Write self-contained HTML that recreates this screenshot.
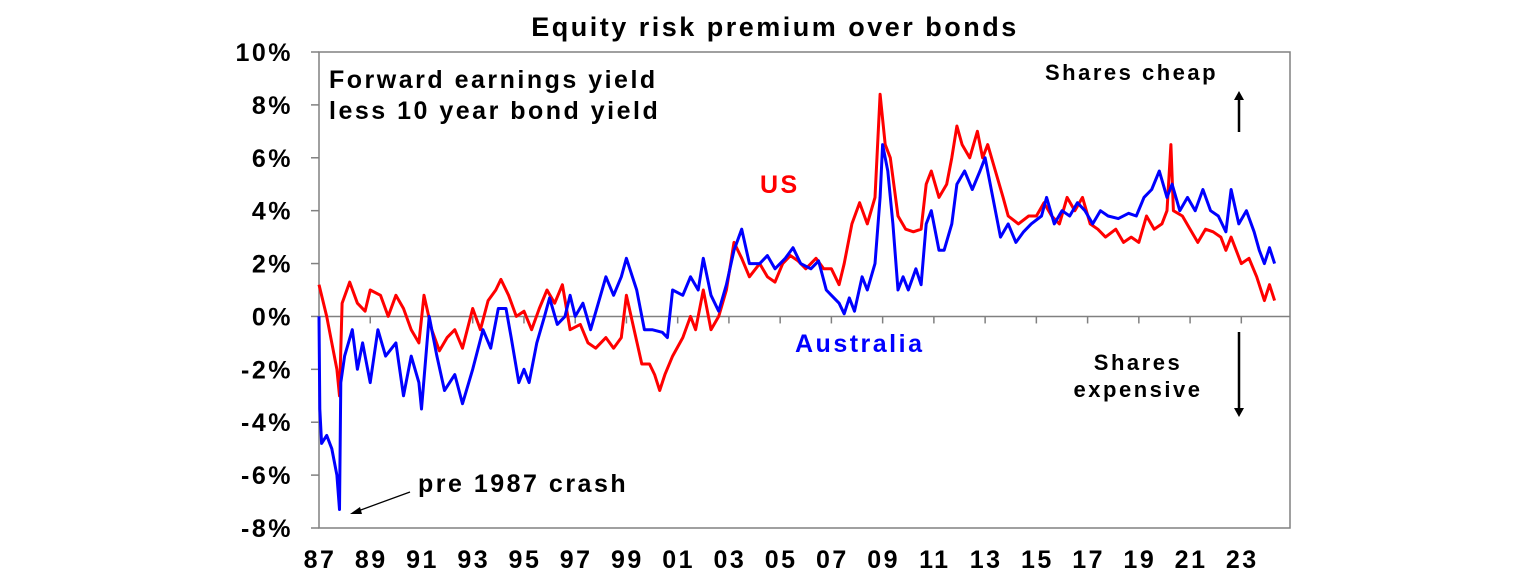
<!DOCTYPE html>
<html><head><meta charset="utf-8">
<style>
html,body{margin:0;padding:0;background:#fff;}
body{width:1536px;height:583px;overflow:hidden;font-family:"Liberation Sans",Arial,sans-serif;}
svg text{font-family:"Liberation Sans",Arial,sans-serif;font-weight:bold;letter-spacing:2.5px;}
</style></head>
<body>
<svg id="chart" width="1536" height="583" viewBox="0 0 1536 583" xmlns="http://www.w3.org/2000/svg">
<text x="775" y="36" font-size="27" text-anchor="middle">Equity risk premium over bonds</text>
<g id="axes"></g>
<g id="series"></g>
<text x="329" y="88" font-size="25">Forward earnings yield</text>
<text x="329" y="119" font-size="25">less 10 year bond yield</text>
<text x="760" y="193" font-size="25" fill="#ff0000">US</text>
<text x="795" y="352" font-size="25" fill="#0000ff">Australia</text>
<text x="1045" y="80" font-size="22">Shares cheap</text>
<text x="1138" y="370" font-size="22" text-anchor="middle">Shares</text>
<text x="1138" y="397" font-size="22" text-anchor="middle">expensive</text>
<g><line x1="1239" y1="132" x2="1239" y2="98" stroke="#000" stroke-width="2.5"/><polygon points="1234,100 1244,100 1239,91" fill="#000"/></g>
<g><line x1="1239" y1="332" x2="1239" y2="410" stroke="#000" stroke-width="2.5"/><polygon points="1234,408 1244,408 1239,417" fill="#000"/></g>
<text x="418" y="492" font-size="25">pre 1987 crash</text>
<g><line x1="410" y1="492" x2="358" y2="511" stroke="#000" stroke-width="1.3"/><polygon points="350,514 360,507 362,514" fill="#000"/></g>
</svg>
<script>
const yTicks=[10,8,6,4,2,0,-2,-4,-6,-8];
const xTickLabels=["87","89","91","93","95","97","99","01","03","05","07","09","11","13","15","17","19","21","23"];
const xTickYears=[1987,1989,1991,1993,1995,1997,1999,2001,2003,2005,2007,2009,2011,2013,2015,2017,2019,2021,2023];
const auYears=[1987.0,1987.03,1987.1,1987.3,1987.5,1987.7,1987.8,1987.85,1988.0,1988.3,1988.5,1988.7,1989.0,1989.3,1989.6,1990.0,1990.3,1990.6,1990.9,1991.0,1991.3,1991.6,1991.9,1992.3,1992.6,1993.0,1993.4,1993.7,1994.0,1994.3,1994.5,1994.8,1995.0,1995.2,1995.5,1995.8,1996.0,1996.3,1996.6,1996.8,1997.0,1997.3,1997.6,1997.9,1998.2,1998.5,1998.8,1999.0,1999.4,1999.7,2000.0,2000.4,2000.6,2000.8,2001.2,2001.5,2001.8,2002.0,2002.3,2002.6,2002.9,2003.2,2003.5,2003.8,2004.2,2004.5,2004.8,2005.2,2005.5,2005.8,2006.2,2006.5,2006.8,2007.0,2007.3,2007.5,2007.7,2007.9,2008.2,2008.4,2008.7,2008.9,2009.0,2009.2,2009.4,2009.6,2009.8,2010.0,2010.3,2010.5,2010.7,2010.9,2011.2,2011.4,2011.7,2011.9,2012.2,2012.5,2012.8,2013.0,2013.3,2013.6,2013.9,2014.2,2014.5,2014.8,2015.2,2015.4,2015.7,2016.0,2016.3,2016.6,2016.9,2017.2,2017.5,2017.8,2018.2,2018.6,2018.9,2019.2,2019.5,2019.8,2020.1,2020.3,2020.6,2020.9,2021.2,2021.5,2021.8,2022.1,2022.4,2022.6,2022.9,2023.2,2023.5,2023.7,2023.9,2024.1,2024.3];
const auValues=[0,-3.5,-4.8,-4.5,-5.0,-6.0,-7.3,-2.5,-1.5,-0.5,-2.0,-1.0,-2.5,-0.5,-1.5,-1.0,-3.0,-1.5,-2.5,-3.5,0,-1.5,-2.8,-2.2,-3.3,-2.0,-0.5,-1.2,0.3,0.3,-0.8,-2.5,-2.0,-2.5,-1.0,0.0,0.7,-0.3,0.0,0.8,0.0,0.5,-0.5,0.5,1.5,0.8,1.5,2.2,1.0,-0.5,-0.5,-0.6,-0.8,1.0,0.8,1.5,1.0,2.2,0.8,0.2,1.2,2.5,3.3,2.0,2.0,2.3,1.8,2.2,2.6,2.0,1.8,2.1,1.0,0.8,0.5,0.1,0.7,0.2,1.5,1.0,2.0,4.5,6.5,5.5,3.5,1.0,1.5,1.0,1.8,1.2,3.5,4.0,2.5,2.5,3.5,5.0,5.5,4.8,5.5,6.0,4.5,3.0,3.5,2.8,3.2,3.5,3.8,4.5,3.5,4.0,3.8,4.3,4.0,3.5,4.0,3.8,3.7,3.9,3.8,4.5,4.8,5.5,4.5,5.0,4.0,4.5,4.0,4.8,4.0,3.8,3.2,4.8,3.5,4.0,3.2,2.5,2.0,2.6,2.0];
const usYears=[1987.0,1987.3,1987.5,1987.7,1987.8,1987.9,1988.2,1988.5,1988.8,1989.0,1989.4,1989.7,1990.0,1990.3,1990.6,1990.9,1991.1,1991.4,1991.7,1992.0,1992.3,1992.6,1993.0,1993.3,1993.6,1993.9,1994.1,1994.4,1994.7,1995.0,1995.3,1995.6,1995.9,1996.2,1996.5,1996.8,1997.2,1997.5,1997.8,1998.2,1998.5,1998.8,1999.0,1999.3,1999.6,1999.9,2000.1,2000.3,2000.5,2000.8,2001.2,2001.5,2001.7,2002.0,2002.3,2002.6,2002.9,2003.2,2003.5,2003.8,2004.2,2004.5,2004.8,2005.1,2005.4,2005.7,2006.0,2006.4,2006.7,2007.0,2007.3,2007.5,2007.8,2008.1,2008.4,2008.7,2008.9,2009.1,2009.3,2009.6,2009.9,2010.2,2010.5,2010.7,2010.9,2011.2,2011.5,2011.7,2011.9,2012.1,2012.4,2012.7,2012.9,2013.1,2013.4,2013.7,2013.9,2014.3,2014.7,2015.0,2015.3,2015.6,2015.9,2016.2,2016.5,2016.8,2017.1,2017.4,2017.7,2018.1,2018.4,2018.7,2019.0,2019.3,2019.6,2019.9,2020.1,2020.25,2020.35,2020.7,2021.0,2021.3,2021.6,2021.9,2022.2,2022.4,2022.6,2022.8,2023.0,2023.3,2023.6,2023.9,2024.1,2024.3];
const usValues=[1.2,0.0,-1.0,-2.0,-3.0,0.5,1.3,0.5,0.2,1.0,0.8,0.0,0.8,0.3,-0.5,-1.0,0.8,-0.5,-1.3,-0.8,-0.5,-1.2,0.3,-0.5,0.6,1.0,1.4,0.8,0.0,0.2,-0.5,0.3,1.0,0.5,1.2,-0.5,-0.3,-1.0,-1.2,-0.8,-1.2,-0.8,0.8,-0.5,-1.8,-1.8,-2.2,-2.8,-2.2,-1.5,-0.8,0.0,-0.5,1.0,-0.5,0.0,1.0,2.8,2.2,1.5,2.0,1.5,1.3,2.0,2.3,2.1,1.8,2.2,1.8,1.8,1.2,2.0,3.5,4.3,3.5,4.5,8.4,6.5,6.0,3.8,3.3,3.2,3.3,5.0,5.5,4.5,5.0,6.0,7.2,6.5,6.0,7.0,6.0,6.5,5.5,4.5,3.8,3.5,3.8,3.8,4.3,3.8,3.5,4.5,4.0,4.5,3.5,3.3,3.0,3.3,2.8,3.0,2.8,3.8,3.3,3.5,4.0,6.5,4.0,3.8,3.3,2.8,3.3,3.2,3.0,2.5,3.0,2.5,2.0,2.2,1.5,0.6,1.2,0.6];

const L=319,R=1290,T=52,B=528,yMin=-8,yMax=10,x0=1987,x1=2024.9;
const NS="http://www.w3.org/2000/svg";
const xs=v=>L+(v-x0)/(x1-x0)*(R-L);
const ys=v=>B-(v-yMin)/(yMax-yMin)*(B-T);
function mk(tag,attrs,parent){const e=document.createElementNS(NS,tag);for(const k in attrs)e.setAttribute(k,attrs[k]);parent.appendChild(e);return e;}
const axes=document.getElementById('axes');
const frame=mk('rect',{x:L,y:T,width:R-L,height:B-T,fill:'none',stroke:'#808080','stroke-width':1.5},axes);


yTicks.forEach(v=>{
  const t=mk('line',{x1:L-8,x2:L,y1:ys(v),y2:ys(v),stroke:'#808080','stroke-width':1.5},axes);
  
  
  const lb=mk('text',{x:L-26,y:ys(v)+9,'font-size':25,'text-anchor':'end'},axes);
  lb.textContent=v+'%';
  
  
});
const zl=mk('line',{x1:L,x2:R,y1:ys(0),y2:ys(0),stroke:'#808080','stroke-width':1.5},axes);


xTickYears.forEach((yr,i)=>{
  const t=mk('line',{x1:xs(yr),x2:xs(yr),y1:ys(0),y2:ys(0)+7,stroke:'#808080','stroke-width':1.5},axes);
  
  
  const lb=mk('text',{x:xs(yr)+1,y:568,'font-size':25,'text-anchor':'middle'},axes);
  lb.textContent=xTickLabels[i];
  
  
});
const ser=document.getElementById('series');
function drawLine(years,vals,color,name){
  const d=years.map((y,i)=>(i?'L':'M')+xs(y).toFixed(1)+','+ys(vals[i]).toFixed(1)).join(' ');
  const p=mk('path',{d:d,fill:'none',stroke:color,'stroke-width':3,'stroke-linejoin':'round'},ser);
  
  
}
drawLine(usYears,usValues,'#ff0000','us-series-line');
drawLine(auYears,auValues,'#0000ff','australia-series-line');
</script>
</body></html>
